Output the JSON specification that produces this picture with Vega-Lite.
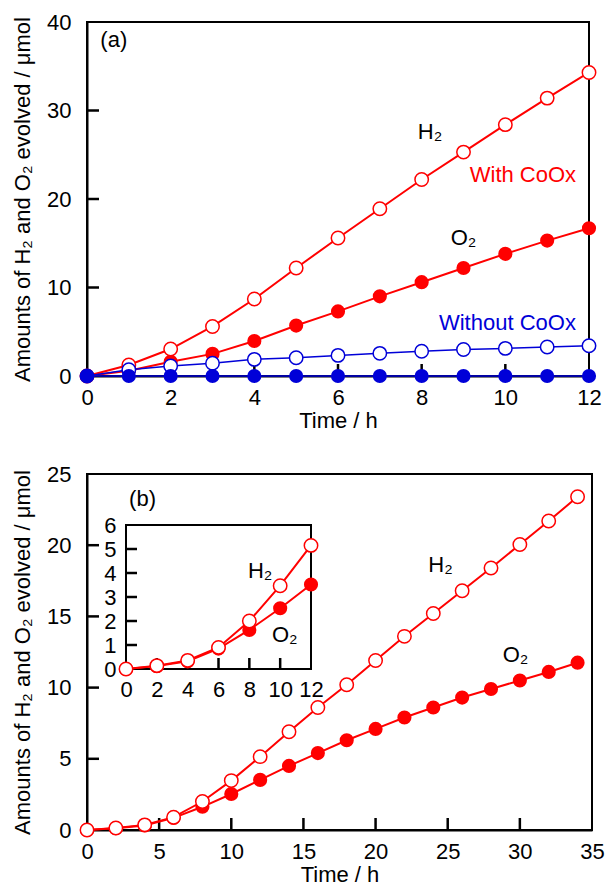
{
  "$schema": "https://vega.github.io/schema/vega-lite/v6.json",
  "padding": {"left": 10, "top": 10, "right": 8, "bottom": 2},
  "spacing": 30,
  "datasets": {
    "a": [
      {"cat": "With CoOx", "gas": "H2", "t": 0, "v": 0},
      {"cat": "With CoOx", "gas": "H2", "t": 1, "v": 1.25},
      {"cat": "With CoOx", "gas": "H2", "t": 2, "v": 3.05},
      {"cat": "With CoOx", "gas": "H2", "t": 3, "v": 5.6},
      {"cat": "With CoOx", "gas": "H2", "t": 4, "v": 8.7},
      {"cat": "With CoOx", "gas": "H2", "t": 5, "v": 12.2},
      {"cat": "With CoOx", "gas": "H2", "t": 6, "v": 15.6},
      {"cat": "With CoOx", "gas": "H2", "t": 7, "v": 18.9},
      {"cat": "With CoOx", "gas": "H2", "t": 8, "v": 22.2},
      {"cat": "With CoOx", "gas": "H2", "t": 9, "v": 25.3},
      {"cat": "With CoOx", "gas": "H2", "t": 10, "v": 28.4},
      {"cat": "With CoOx", "gas": "H2", "t": 11, "v": 31.4},
      {"cat": "With CoOx", "gas": "H2", "t": 12, "v": 34.3},
      {"cat": "With CoOx", "gas": "O2", "t": 0, "v": 0},
      {"cat": "With CoOx", "gas": "O2", "t": 1, "v": 0.6},
      {"cat": "With CoOx", "gas": "O2", "t": 2, "v": 1.6},
      {"cat": "With CoOx", "gas": "O2", "t": 3, "v": 2.5},
      {"cat": "With CoOx", "gas": "O2", "t": 4, "v": 3.95},
      {"cat": "With CoOx", "gas": "O2", "t": 5, "v": 5.7},
      {"cat": "With CoOx", "gas": "O2", "t": 6, "v": 7.3},
      {"cat": "With CoOx", "gas": "O2", "t": 7, "v": 9.0},
      {"cat": "With CoOx", "gas": "O2", "t": 8, "v": 10.6},
      {"cat": "With CoOx", "gas": "O2", "t": 9, "v": 12.2},
      {"cat": "With CoOx", "gas": "O2", "t": 10, "v": 13.8},
      {"cat": "With CoOx", "gas": "O2", "t": 11, "v": 15.3},
      {"cat": "With CoOx", "gas": "O2", "t": 12, "v": 16.7},
      {"cat": "Without CoOx", "gas": "H2", "t": 0, "v": 0},
      {"cat": "Without CoOx", "gas": "H2", "t": 1, "v": 0.7},
      {"cat": "Without CoOx", "gas": "H2", "t": 2, "v": 1.13},
      {"cat": "Without CoOx", "gas": "H2", "t": 3, "v": 1.45},
      {"cat": "Without CoOx", "gas": "H2", "t": 4, "v": 1.88},
      {"cat": "Without CoOx", "gas": "H2", "t": 5, "v": 2.07},
      {"cat": "Without CoOx", "gas": "H2", "t": 6, "v": 2.33},
      {"cat": "Without CoOx", "gas": "H2", "t": 7, "v": 2.56},
      {"cat": "Without CoOx", "gas": "H2", "t": 8, "v": 2.8},
      {"cat": "Without CoOx", "gas": "H2", "t": 9, "v": 3.0},
      {"cat": "Without CoOx", "gas": "H2", "t": 10, "v": 3.12},
      {"cat": "Without CoOx", "gas": "H2", "t": 11, "v": 3.27},
      {"cat": "Without CoOx", "gas": "H2", "t": 12, "v": 3.42},
      {"cat": "Without CoOx", "gas": "O2", "t": 0, "v": 0},
      {"cat": "Without CoOx", "gas": "O2", "t": 1, "v": 0},
      {"cat": "Without CoOx", "gas": "O2", "t": 2, "v": 0},
      {"cat": "Without CoOx", "gas": "O2", "t": 3, "v": 0},
      {"cat": "Without CoOx", "gas": "O2", "t": 4, "v": 0},
      {"cat": "Without CoOx", "gas": "O2", "t": 5, "v": 0},
      {"cat": "Without CoOx", "gas": "O2", "t": 6, "v": 0},
      {"cat": "Without CoOx", "gas": "O2", "t": 7, "v": 0},
      {"cat": "Without CoOx", "gas": "O2", "t": 8, "v": 0},
      {"cat": "Without CoOx", "gas": "O2", "t": 9, "v": 0},
      {"cat": "Without CoOx", "gas": "O2", "t": 10, "v": 0},
      {"cat": "Without CoOx", "gas": "O2", "t": 11, "v": 0},
      {"cat": "Without CoOx", "gas": "O2", "t": 12, "v": 0}
    ],
    "b": [
      {"gas": "H2", "t": 0, "v": 0},
      {"gas": "H2", "t": 2, "v": 0.14},
      {"gas": "H2", "t": 4, "v": 0.36},
      {"gas": "H2", "t": 6, "v": 0.9},
      {"gas": "H2", "t": 8, "v": 2.0},
      {"gas": "H2", "t": 10, "v": 3.47},
      {"gas": "H2", "t": 12, "v": 5.15},
      {"gas": "H2", "t": 14, "v": 6.9},
      {"gas": "H2", "t": 16, "v": 8.6},
      {"gas": "H2", "t": 18, "v": 10.2},
      {"gas": "H2", "t": 20, "v": 11.9},
      {"gas": "H2", "t": 22, "v": 13.6},
      {"gas": "H2", "t": 24, "v": 15.2},
      {"gas": "H2", "t": 26, "v": 16.8},
      {"gas": "H2", "t": 28, "v": 18.4},
      {"gas": "H2", "t": 30, "v": 20.05},
      {"gas": "H2", "t": 32, "v": 21.7},
      {"gas": "H2", "t": 34, "v": 23.4},
      {"gas": "O2", "t": 0, "v": 0},
      {"gas": "O2", "t": 2, "v": 0.12},
      {"gas": "O2", "t": 4, "v": 0.32},
      {"gas": "O2", "t": 6, "v": 0.85},
      {"gas": "O2", "t": 8, "v": 1.63},
      {"gas": "O2", "t": 10, "v": 2.53},
      {"gas": "O2", "t": 12, "v": 3.52},
      {"gas": "O2", "t": 14, "v": 4.5},
      {"gas": "O2", "t": 16, "v": 5.4},
      {"gas": "O2", "t": 18, "v": 6.3},
      {"gas": "O2", "t": 20, "v": 7.1},
      {"gas": "O2", "t": 22, "v": 7.9},
      {"gas": "O2", "t": 24, "v": 8.6},
      {"gas": "O2", "t": 26, "v": 9.3},
      {"gas": "O2", "t": 28, "v": 9.9},
      {"gas": "O2", "t": 30, "v": 10.5},
      {"gas": "O2", "t": 32, "v": 11.1},
      {"gas": "O2", "t": 34, "v": 11.75}
    ],
    "notesA": [
      {"label": "(a)", "grp": "plain", "t": 0.64, "v": 38},
      {"label": "H₂", "grp": "plain", "t": 8.2, "v": 27.6},
      {"label": "With CoOx", "grp": "With CoOx", "t": 10.42, "v": 22.7},
      {"label": "O₂", "grp": "plain", "t": 9.0, "v": 15.6},
      {"label": "Without CoOx", "grp": "Without CoOx", "t": 10.05, "v": 6.0}
    ],
    "notesB": [
      {"label": "(b)", "t": 3.85, "v": 23.25},
      {"label": "H₂", "t": 24.5, "v": 18.6},
      {"label": "O₂", "t": 29.7, "v": 12.3}
    ],
    "notesInset": [
      {"label": "H₂", "t": 8.7, "v": 4.1},
      {"label": "O₂", "t": 10.3, "v": 1.4}
    ],
    "insetFrame": [
      {"t0": 0, "t1": 12, "v0": 0, "v1": 6}
    ],
    "ticksAx": [{"t": 2, "v": 0}, {"t": 4, "v": 0}, {"t": 6, "v": 0}, {"t": 8, "v": 0}, {"t": 10, "v": 0}],
    "ticksAy": [{"t": 0, "v": 10}, {"t": 0, "v": 20}, {"t": 0, "v": 30}],
    "ticksBx": [{"t": 5, "v": 0}, {"t": 10, "v": 0}, {"t": 15, "v": 0}, {"t": 20, "v": 0}, {"t": 25, "v": 0}, {"t": 30, "v": 0}],
    "ticksBy": [{"t": 0, "v": 5}, {"t": 0, "v": 10}, {"t": 0, "v": 15}, {"t": 0, "v": 20}],
    "ticksIx": [{"t": 2, "v": 0}, {"t": 4, "v": 0}, {"t": 6, "v": 0}, {"t": 8, "v": 0}, {"t": 10, "v": 0}],
    "ticksIy": [{"t": 0, "v": 1}, {"t": 0, "v": 2}, {"t": 0, "v": 3}, {"t": 0, "v": 4}, {"t": 0, "v": 5}]
  },
  "vconcat": [
    {
      "width": 502,
      "height": 354,
      "view": {"stroke": "black", "strokeWidth": 2},
      "encoding": {
        "x": {"field": "t", "type": "quantitative",
              "scale": {"domain": [0, 12], "nice": false, "zero": false},
              "axis": {"title": "Time / h", "values": [0, 2, 4, 6, 8, 10, 12]}},
        "y": {"field": "v", "type": "quantitative",
              "scale": {"domain": [0, 40], "nice": false},
              "axis": {"title": "Amounts of H₂ and O₂ evolved / μmol", "values": [0, 10, 20, 30, 40]}}
      },
      "layer": [
        {"data": {"name": "ticksAx"},
         "mark": {"type": "tick", "orient": "vertical", "size": 12, "thickness": 2.5, "color": "black", "opacity": 1, "yOffset": -6}},
        {"data": {"name": "ticksAy"},
         "mark": {"type": "tick", "orient": "horizontal", "size": 12, "thickness": 2.5, "color": "black", "opacity": 1, "xOffset": 6}},
        {"data": {"name": "a"}, "transform": [{"filter": "datum.cat === 'With CoOx'"}],
         "mark": {"type": "line", "color": "#ff0000", "strokeWidth": 2},
         "encoding": {"detail": {"field": "gas"}}},
        {"data": {"name": "a"}, "transform": [{"filter": "datum.cat === 'With CoOx' && datum.gas === 'O2'"}],
         "mark": {"type": "point", "shape": "circle", "filled": true, "color": "#ff0000", "opacity": 1, "size": 200}},
        {"data": {"name": "a"}, "transform": [{"filter": "datum.cat === 'With CoOx' && datum.gas === 'H2'"}],
         "mark": {"type": "point", "shape": "circle", "filled": true, "fill": "white", "stroke": "#ff0000", "strokeWidth": 1.5, "opacity": 1, "size": 180}},
        {"data": {"name": "a"}, "transform": [{"filter": "datum.cat === 'Without CoOx'"}],
         "mark": {"type": "line", "color": "#0000d8", "strokeWidth": 1.5},
         "encoding": {"detail": {"field": "gas"}}},
        {"data": {"name": "a"}, "transform": [{"filter": "datum.cat === 'Without CoOx' && datum.gas === 'H2'"}],
         "mark": {"type": "point", "shape": "circle", "filled": true, "fill": "white", "stroke": "#0000d8", "strokeWidth": 1.5, "opacity": 1, "size": 180}},
        {"data": {"name": "a"}, "transform": [{"filter": "datum.cat === 'Without CoOx' && datum.gas === 'O2'"}],
         "mark": {"type": "point", "shape": "circle", "filled": true, "color": "#0000d8", "opacity": 1, "size": 200}},
        {"data": {"name": "notesA"},
         "mark": {"type": "text", "align": "center", "baseline": "middle", "fontSize": 22, "font": "Liberation Sans"},
         "encoding": {
           "text": {"field": "label"},
           "color": {"field": "grp", "type": "nominal", "legend": null,
                     "scale": {"domain": ["plain", "With CoOx", "Without CoOx"], "range": ["#000000", "#ff0000", "#0000d8"]}}
         }}
      ]
    },
    {
      "width": 505,
      "height": 356,
      "view": {"stroke": "black", "strokeWidth": 2},
      "layer": [
        {
          "encoding": {
            "x": {"field": "t", "type": "quantitative",
                  "scale": {"domain": [0, 35], "nice": false},
                  "axis": {"title": "Time / h", "orient": "bottom", "values": [0, 5, 10, 15, 20, 25, 30, 35]}},
            "y": {"field": "v", "type": "quantitative",
                  "scale": {"domain": [0, 25], "nice": false},
                  "axis": {"title": "Amounts of H₂ and O₂ evolved / μmol", "orient": "left", "values": [0, 5, 10, 15, 20, 25]}}
          },
          "layer": [
            {"data": {"name": "ticksBx"},
             "mark": {"type": "tick", "orient": "vertical", "size": 12, "thickness": 2.5, "color": "black", "opacity": 1, "yOffset": -6}},
            {"data": {"name": "ticksBy"},
             "mark": {"type": "tick", "orient": "horizontal", "size": 12, "thickness": 2.5, "color": "black", "opacity": 1, "xOffset": 6}},
            {"data": {"name": "b"},
             "mark": {"type": "line", "color": "#ff0000", "strokeWidth": 2},
             "encoding": {"detail": {"field": "gas"}}},
            {"data": {"name": "b"}, "transform": [{"filter": "datum.gas === 'O2'"}],
             "mark": {"type": "point", "shape": "circle", "filled": true, "color": "#ff0000", "opacity": 1, "size": 200}},
            {"data": {"name": "b"}, "transform": [{"filter": "datum.gas === 'H2'"}],
             "mark": {"type": "point", "shape": "circle", "filled": true, "fill": "white", "stroke": "#ff0000", "strokeWidth": 1.5, "opacity": 1, "size": 180}},
            {"data": {"name": "notesB"},
             "mark": {"type": "text", "align": "center", "baseline": "middle", "fontSize": 22, "color": "#000000", "font": "Liberation Sans"},
             "encoding": {"text": {"field": "label"}}}
          ]
        },
        {
          "encoding": {
            "x": {"field": "t", "type": "quantitative",
                  "scale": {"domain": [-2.53, 30.227], "nice": false, "zero": false},
                  "axis": {"title": null, "orient": "bottom", "offset": -161, "domain": false, "values": [0, 2, 4, 6, 8, 10, 12], "labelPadding": 10}},
            "y": {"field": "v", "type": "quantitative",
                  "scale": {"domain": [-6.708, 8.125], "nice": false, "zero": false},
                  "axis": {"title": null, "orient": "left", "offset": -39, "domain": false, "values": [0, 1, 2, 3, 4, 5, 6], "labelPadding": 10}}
          },
          "layer": [
            {"data": {"name": "insetFrame"},
             "mark": {"type": "rect", "fill": null, "stroke": "black", "strokeWidth": 2},
             "encoding": {"x": {"field": "t0", "type": "quantitative"}, "x2": {"field": "t1"},
                          "y": {"field": "v0", "type": "quantitative"}, "y2": {"field": "v1"}}},
            {"data": {"name": "ticksIx"},
             "mark": {"type": "tick", "orient": "vertical", "size": 11, "thickness": 2.5, "color": "black", "opacity": 1, "yOffset": -5.5}},
            {"data": {"name": "ticksIy"},
             "mark": {"type": "tick", "orient": "horizontal", "size": 11, "thickness": 2.5, "color": "black", "opacity": 1, "xOffset": 5.5}},
            {"data": {"name": "b"}, "transform": [{"filter": "datum.t <= 12"}],
             "mark": {"type": "line", "color": "#ff0000", "strokeWidth": 2},
             "encoding": {"detail": {"field": "gas"}}},
            {"data": {"name": "b"}, "transform": [{"filter": "datum.t <= 12 && datum.gas === 'O2'"}],
             "mark": {"type": "point", "shape": "circle", "filled": true, "color": "#ff0000", "opacity": 1, "size": 200}},
            {"data": {"name": "b"}, "transform": [{"filter": "datum.t <= 12 && datum.gas === 'H2'"}],
             "mark": {"type": "point", "shape": "circle", "filled": true, "fill": "white", "stroke": "#ff0000", "strokeWidth": 1.5, "opacity": 1, "size": 180}},
            {"data": {"name": "notesInset"},
             "mark": {"type": "text", "align": "center", "baseline": "middle", "fontSize": 22, "color": "#000000", "font": "Liberation Sans"},
             "encoding": {"text": {"field": "label"}}}
          ]
        }
      ],
      "resolve": {"scale": {"x": "independent", "y": "independent"}, "axis": {"x": "independent", "y": "independent"}}
    }
  ],
  "config": {
    "font": "Liberation Sans",
    "view": {"stroke": "black", "strokeWidth": 2},
    "axis": {
      "grid": false,
      "ticks": false,
      "labelFont": "Liberation Sans",
      "labelFontSize": 22,
      "labelColor": "black",
      "titleFont": "Liberation Sans",
      "titleFontSize": 22,
      "titleFontWeight": "normal",
      "titleColor": "black",
      "domainColor": "black",
      "domainWidth": 2,
      "labelFlush": false,
      "labelOverlap": false
    },
    "axisX": {"labelPadding": 11, "titlePadding": 2},
    "axisY": {"labelPadding": 16, "titlePadding": 12}
  }
}
